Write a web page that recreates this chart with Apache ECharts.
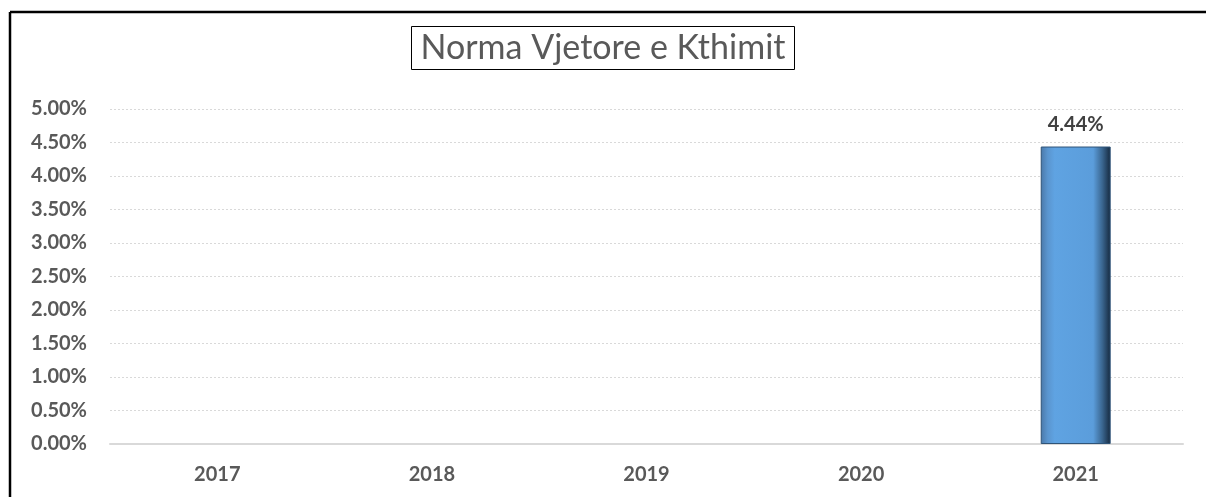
<!DOCTYPE html>
<html>
<head>
<meta charset="utf-8">
<script src="https://cdn.jsdelivr.net/npm/echarts@6/dist/echarts.min.js"></script>
<style>html,body{margin:0;padding:0;background:#fff;overflow:hidden}#c{width:1206px;height:497px}</style>
</head>
<body>
<div id="c"></div>
<script>
const categories = ['2017', '2018', '2019', '2020', '2021'];
const values = [null, null, null, null, 4.44];
const yTicks = [0, 0.5, 1, 1.5, 2, 2.5, 3, 3.5, 4, 4.5, 5];
const titleText = 'Norma Vjetore e Kthimit';

const chart = echarts.init(document.getElementById('c'), null, {renderer: 'canvas'});
chart.setOption({
  animation: false,
  backgroundColor: '#fff',
  title: {
    text: titleText,
    left: 'center',
    top: 26,
    padding: [5, 9, 5, 9],
    borderColor: '#000',
    borderWidth: 1,
    textStyle: {fontFamily: 'Lato', fontSize: 34, fontWeight: 'normal', color: '#595959', lineHeight: 34}
  },
  graphic: [
    {type: 'line', silent: true, z: 100, shape: {x1: 10, y1: 12, x2: 1240, y2: 12}, style: {stroke: '#000', lineWidth: 2.5}},
    {type: 'line', silent: true, z: 100, shape: {x1: 10, y1: 12, x2: 10, y2: 520}, style: {stroke: '#000', lineWidth: 2.5}}
  ],
  grid: {left: 110, right: 23, top: 109, bottom: 53, containLabel: false},
  xAxis: {
    type: 'category',
    data: categories,
    axisLine: {lineStyle: {color: '#d9d9d9', width: 2}},
    axisTick: {show: false},
    axisLabel: {margin: 21, fontFamily: 'Lato', fontWeight: 'bold', fontSize: 20, color: '#595959'}
  },
  yAxis: {
    type: 'value',
    min: yTicks[0],
    max: yTicks[yTicks.length - 1],
    interval: 0.5,
    axisLine: {show: false},
    axisTick: {show: false},
    axisLabel: {margin: 23, fontFamily: 'Lato', fontWeight: 'bold', fontSize: 20, color: '#595959',
      formatter: v => v.toFixed(2) + '%'},
    splitLine: {lineStyle: {color: '#d9d9d9', type: [2, 2], width: 1}}
  },
  series: [{
    type: 'bar',
    data: values,
    barWidth: '32.6%',
    itemStyle: {
      color: new echarts.graphic.LinearGradient(0, 0, 1, 0, [
        {offset: 0, color: '#4a78a8'},
        {offset: 0.1, color: '#5a95cf'},
        {offset: 0.2, color: '#5fa3e2'},
        {offset: 0.75, color: '#5b9ddb'},
        {offset: 0.88, color: '#3a6690'},
        {offset: 1, color: '#15283d'}
      ]),
      borderColor: '#2f5478',
      borderWidth: 1
    },
    label: {
      show: true, position: 'top', distance: 12,
      fontFamily: 'Lato', fontWeight: 'bold', fontSize: 20, color: '#404040',
      formatter: p => p.value == null ? '' : p.value.toFixed(2) + '%'
    }
  }]
});
</script>
</body>
</html>
